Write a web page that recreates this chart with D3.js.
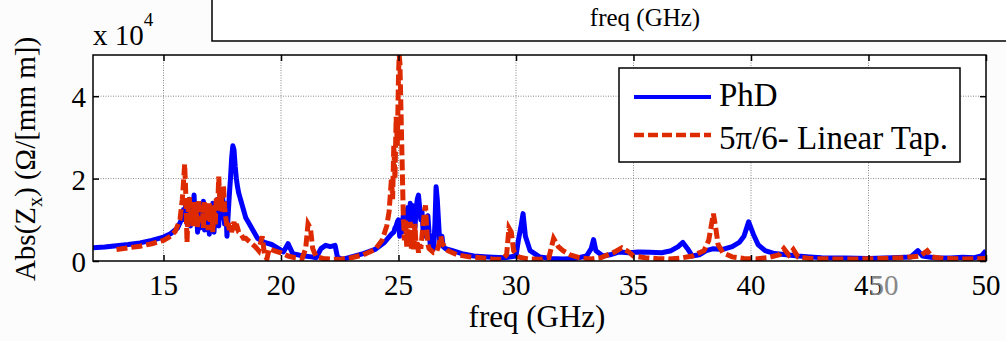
<!DOCTYPE html>
<html><head><meta charset="utf-8">
<script src="https://cdn.jsdelivr.net/npm/d3@7"></script>
<style>
html,body{margin:0;padding:0;background:#fcfcfc;}
svg{display:block;}
text{font-family:"Liberation Serif","Times New Roman",serif;fill:#000;}
</style></head>
<body>
<svg id="c" width="1006" height="341"></svg>
<script>
// ---- data (values in units of 1e4 Ω/[mm m]) ----
const xTicks = [15, 20, 25, 30, 35, 40, 45, 50];
const yTicks = [0, 2, 4];
const yTickLabels = ["0", "2", "4"];
const seriesNames = ["PhD", "5\u03c0/6- Linear Tap."];

const phdFreq = [12.0,12.5,13.0,13.5,14.0,14.5,15.0,15.3,15.6,
 15.80,15.85,15.90,15.95,16.00,16.05,16.10,16.15,16.20,16.25,16.30,16.35,16.40,16.45,16.50,16.55,16.60,16.65,16.70,16.75,16.80,16.85,16.90,16.95,17.00,17.05,17.10,17.15,17.20,17.25,17.30,17.35,17.40,17.45,17.50,17.55,17.60,17.65,17.70,17.75,17.80,17.85,17.90,17.95,18.00,18.05,18.10,18.15,18.20,18.25,18.30,18.35,18.40,18.45,18.50,
 18.6,18.8,19.0,19.3,19.6,19.9,20.1,20.3,20.5,20.8,21.0,21.3,21.5,21.7,21.9,22.1,22.3,22.4,22.6,23.0,23.5,24.0,24.4,24.7,
 24.80,24.85,24.90,24.95,25.00,25.05,25.10,25.15,25.20,25.25,25.30,25.35,25.40,25.45,25.50,25.55,25.60,25.65,25.70,25.75,25.80,25.85,25.90,25.95,26.00,26.05,26.10,26.15,26.20,26.25,26.30,26.35,26.40,26.45,26.50,26.55,26.60,26.65,26.70,26.75,26.80,26.85,26.90,
 27.0,27.3,27.7,28.2,28.8,29.5,30.0,30.1,30.2,30.3,30.4,30.6,31.0,31.5,32.0,32.5,33.0,33.2,33.3,33.4,33.7,34.0,34.4,34.8,35.2,35.7,36.2,36.6,36.9,37.1,37.3,37.5,37.8,38.1,38.4,38.8,39.2,39.5,39.7,39.9,40.1,40.3,40.6,41.0,41.5,42.0,42.5,43.0,44.0,45.0,46.0,46.8,47.1,47.3,47.8,48.5,49.0,49.5,49.8,50.0];
const phdVal = [0.32,0.34,0.37,0.40,0.44,0.50,0.58,0.66,0.80,
 1.05,1.25,1.00,1.40,0.90,1.30,1.50,0.85,1.35,1.10,1.60,1.00,1.40,0.70,1.20,0.80,1.30,0.95,1.45,0.75,1.35,0.90,1.25,0.65,1.15,0.80,1.40,0.70,1.25,0.95,1.50,0.85,1.60,1.05,1.70,1.20,0.90,1.40,0.60,1.10,1.60,2.00,2.50,2.80,2.70,2.30,2.00,1.80,1.65,1.55,1.45,1.35,1.25,1.15,1.05,
 0.95,0.75,0.55,0.45,0.40,0.30,0.22,0.42,0.18,0.14,0.12,0.10,0.08,0.30,0.38,0.35,0.38,0.10,0.04,0.10,0.18,0.28,0.45,0.65,
 0.70,0.80,0.85,0.95,1.00,0.60,0.95,0.70,1.10,0.80,1.20,0.90,1.30,1.00,1.40,0.95,1.35,1.10,0.80,1.25,1.50,1.60,1.30,1.00,1.20,0.70,1.00,0.60,0.90,1.10,0.70,0.40,0.60,0.35,0.30,0.90,1.80,1.50,1.00,0.50,0.40,0.60,0.35,
 0.30,0.25,0.18,0.12,0.10,0.08,0.12,0.50,0.80,1.15,0.60,0.25,0.10,0.06,0.05,0.06,0.12,0.30,0.52,0.25,0.12,0.15,0.22,0.20,0.22,0.21,0.20,0.25,0.35,0.45,0.30,0.12,0.15,0.25,0.30,0.28,0.35,0.45,0.60,0.95,0.65,0.40,0.25,0.18,0.15,0.12,0.10,0.08,0.07,0.06,0.08,0.10,0.25,0.12,0.08,0.07,0.09,0.08,0.12,0.25];

const tapFreq = [13.0,13.5,14.0,14.5,15.0,15.3,15.5,15.7,
 15.80,15.85,15.90,15.95,16.00,16.05,16.10,16.15,16.20,16.25,16.30,16.35,16.40,16.45,16.50,16.55,16.60,16.65,16.70,16.75,16.80,16.85,16.90,16.95,17.00,17.05,17.10,17.15,17.20,17.25,17.30,17.35,17.40,17.45,17.50,17.55,17.60,17.65,17.70,17.75,17.80,17.85,17.90,17.95,18.00,18.05,18.10,18.15,18.20,18.30,18.40,
 18.5,18.7,18.9,19.05,19.2,19.3,19.4,19.5,19.7,20.0,20.3,20.6,20.9,21.05,21.15,21.25,21.35,21.5,21.8,22.2,22.6,23.0,23.5,24.0,24.3,24.5,24.6,
 24.70,24.75,24.80,24.85,24.90,24.95,25.00,25.03,25.06,25.10,25.15,25.20,25.25,25.30,25.35,25.40,25.45,25.50,25.55,25.60,25.65,25.70,25.75,25.80,25.85,25.90,25.95,26.00,26.05,26.10,26.15,26.20,26.25,26.30,26.40,26.50,26.60,26.70,26.80,26.85,26.90,
 27.0,27.1,27.5,28.0,28.5,29.0,29.4,29.6,29.7,29.8,29.9,30.1,30.5,31.0,31.4,31.6,31.8,32.0,32.3,32.7,33.2,33.6,33.9,34.2,34.5,34.8,35.0,35.5,36.0,36.5,37.0,37.5,38.0,38.2,38.4,38.5,38.6,38.8,39.2,39.7,40.2,40.7,41.2,41.4,41.6,41.8,42.0,42.5,43.5,44.5,45.5,46.5,47.2,47.5,47.7,48.2,49.0,50.0];
const tapVal = [0.28,0.32,0.36,0.42,0.50,0.60,0.72,1.00,
 1.50,1.90,2.35,1.60,0.45,1.20,1.55,0.90,1.30,0.85,1.45,1.00,1.25,0.80,1.50,1.10,0.95,1.35,0.80,1.45,1.00,1.30,0.75,1.40,0.95,1.25,0.70,1.35,0.85,1.55,1.20,2.05,1.40,1.70,1.20,1.85,1.30,1.05,0.85,0.95,0.75,0.90,0.70,0.85,0.95,0.75,0.90,0.80,0.70,0.65,0.55,
 0.55,0.45,0.35,0.25,0.60,0.15,0.05,0.30,0.25,0.20,0.12,0.08,0.06,0.30,0.90,0.80,0.30,0.10,0.06,0.04,0.05,0.08,0.15,0.28,0.50,0.85,1.20,
 2.00,1.50,2.80,2.00,3.50,2.80,4.50,5.00,4.80,3.80,2.50,1.20,0.50,1.00,0.35,0.80,0.40,0.95,0.30,0.75,0.25,0.90,0.30,0.50,0.20,0.40,0.30,0.60,0.90,1.20,1.35,0.80,0.40,0.30,0.25,0.20,0.20,0.35,0.60,0.45,0.40,
 0.30,0.25,0.15,0.10,0.08,0.05,0.04,0.15,0.80,0.70,0.25,0.10,0.05,0.04,0.08,0.55,0.35,0.25,0.15,0.08,0.05,0.08,0.15,0.22,0.32,0.22,0.12,0.08,0.06,0.05,0.07,0.12,0.25,0.50,1.15,0.80,0.40,0.20,0.10,0.06,0.05,0.08,0.15,0.30,0.15,0.28,0.10,0.06,0.05,0.05,0.06,0.08,0.12,0.25,0.10,0.06,0.05,0.06];

// ---- layout ----
const svg = d3.select("#c");
const L = 93, R = 986, T = 55, B = 261;
const x = d3.scaleLinear().domain([12, 50]).range([L, R]);
const y = d3.scaleLinear().domain([0, 5]).range([B, T]);

// top box with title (partially cut)
svg.append("rect").attr("x", 212).attr("y", -5).attr("width", 820).attr("height", 46)
  .attr("fill", "#fff").attr("stroke", "#000").attr("stroke-width", 1.5);
svg.append("text").attr("x", 645).attr("y", 26).attr("text-anchor", "middle")
  .attr("font-size", 25).text("freq (GHz)");

// plot background
svg.append("rect").attr("x", L).attr("y", T).attr("width", R - L).attr("height", B - T).attr("fill", "#fff");

// grid
const g = svg.append("g");
g.selectAll(".vg").data(xTicks.filter(d => d < 50)).enter().append("line")
  .attr("x1", d => x(d)).attr("x2", d => x(d)).attr("y1", T).attr("y2", B)
  .attr("stroke", "#888").attr("stroke-width", 1).attr("stroke-dasharray", "1,1.5");
g.selectAll(".hg").data(yTicks.filter(d => d > 0)).enter().append("line")
  .attr("x1", L).attr("x2", R).attr("y1", d => y(d)).attr("y2", d => y(d))
  .attr("stroke", "#888").attr("stroke-width", 1).attr("stroke-dasharray", "1,1.5");

// clip
svg.append("clipPath").attr("id", "clip").append("rect")
  .attr("x", L).attr("y", T).attr("width", R - L).attr("height", B - T);

const line = d3.line().x(d => x(d[0])).y(d => y(d[1]));
const phd = phdFreq.map((f, i) => [f, phdVal[i]]);
const tap = tapFreq.map((f, i) => [f, tapVal[i]]);

const lines = svg.append("g").attr("clip-path", "url(#clip)");
lines.append("path").datum(phd).attr("d", line).attr("fill", "none")
  .attr("stroke", "#0000ff").attr("stroke-width", 5).attr("stroke-linejoin", "round");
lines.append("path").datum(tap).attr("d", line).attr("fill", "none")
  .attr("stroke", "#dd2a00").attr("stroke-width", 5).attr("stroke-dasharray", "11,4");

// axes (box)
svg.append("rect").attr("x", L).attr("y", T).attr("width", R - L).attr("height", B - T)
  .attr("fill", "none").attr("stroke", "#000").attr("stroke-width", 1.5);

// inner ticks
const axB = svg.append("g").attr("transform", `translate(0,${B})`)
  .call(d3.axisBottom(x).tickValues(xTicks).tickSize(-6).tickFormat(""));
const axT = svg.append("g").attr("transform", `translate(0,${T})`)
  .call(d3.axisTop(x).tickValues(xTicks).tickSize(-6).tickFormat(""));
const axL = svg.append("g").attr("transform", `translate(${L},0)`)
  .call(d3.axisLeft(y).tickValues(yTicks).tickSize(-6).tickFormat(""));
const axR = svg.append("g").attr("transform", `translate(${R},0)`)
  .call(d3.axisRight(y).tickValues(yTicks).tickSize(-6).tickFormat(""));
[axB, axT, axL, axR].forEach(a => { a.select(".domain").remove(); a.selectAll("line").attr("stroke", "#000").attr("stroke-width", 1.5); });

// tick labels
svg.selectAll(".xl").data(xTicks).enter().append("text")
  .attr("x", d => x(d)).attr("y", 295).attr("text-anchor", "middle")
  .attr("font-size", 29).text(d => d);
svg.append("text").attr("x", 884).attr("y", 295).attr("text-anchor", "middle")
  .attr("font-size", 29).style("fill", "#888").text("50");
svg.selectAll(".yl").data(yTicks).enter().append("text")
  .attr("x", 86).attr("y", d => y(d) + 11).attr("text-anchor", "end")
  .attr("font-size", 29).text((d, i) => yTickLabels[i]);

// exponent
const ex = svg.append("text").attr("x", 93).attr("y", 45).attr("font-size", 29);
ex.append("tspan").text("x 10");
ex.append("tspan").attr("dy", -19).attr("font-size", 19).text("4");

// axis labels
svg.append("text").attr("x", 537).attr("y", 327).attr("text-anchor", "middle")
  .attr("font-size", 31).text("freq (GHz)");
const yl = svg.append("text").attr("transform", "translate(35,159) rotate(-90)")
  .attr("text-anchor", "middle").attr("font-size", 29);
yl.append("tspan").text("Abs(Z");
yl.append("tspan").attr("dy", 7).attr("font-size", 20).text("x");
yl.append("tspan").attr("dy", -7).text(") (\u03a9/[mm m])");

// legend
const lg = svg.append("g");
lg.append("rect").attr("x", 619).attr("y", 68).attr("width", 341).attr("height", 94)
  .attr("fill", "#fff").attr("stroke", "#000").attr("stroke-width", 1.5);
lg.append("line").attr("x1", 634).attr("x2", 711).attr("y1", 97).attr("y2", 97)
  .attr("stroke", "#0000ff").attr("stroke-width", 4);
lg.append("line").attr("x1", 634).attr("x2", 711).attr("y1", 135).attr("y2", 135)
  .attr("stroke", "#dd2a00").attr("stroke-width", 4.5).attr("stroke-dasharray", "10,4");
lg.append("text").attr("x", 719).attr("y", 106).attr("font-size", 33).text(seriesNames[0]);
lg.append("text").attr("x", 719).attr("y", 149).attr("font-size", 33).text(seriesNames[1]);
</script>
</body></html>
